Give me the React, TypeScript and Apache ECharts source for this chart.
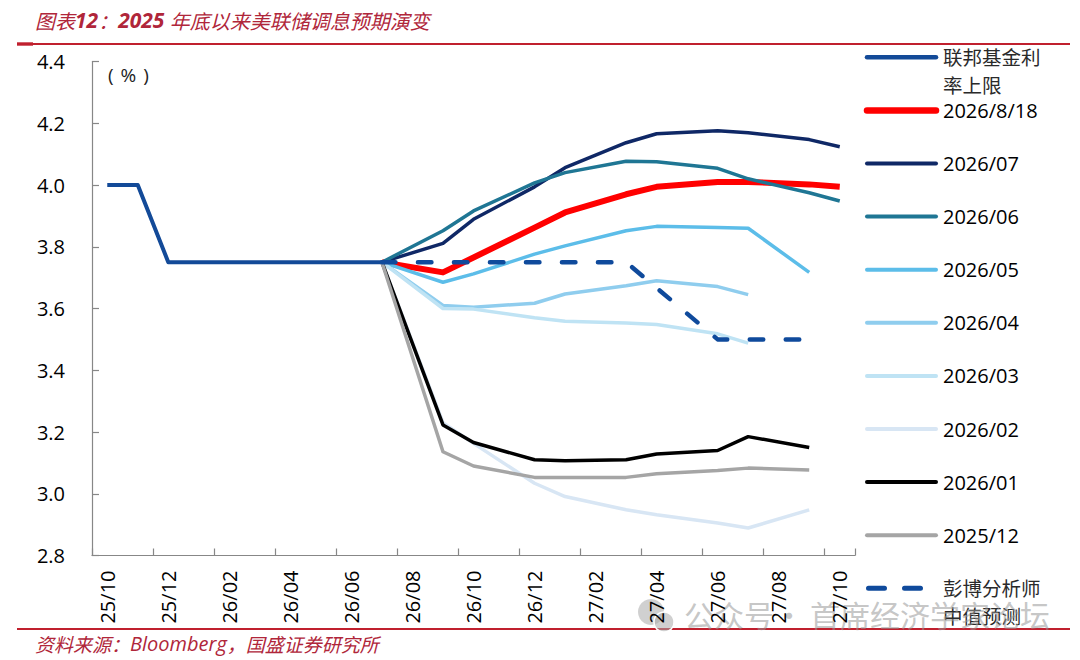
import React, { useEffect, useRef } from 'react';
import * as echarts from 'echarts';

// ---------- data ----------
const months = [
  '25/10', '25/11', '25/12', '26/01', '26/02', '26/03', '26/04', '26/05', '26/06',
  '26/07', '26/08', '26/09', '26/10', '26/11', '26/12', '27/01', '27/02', '27/03',
  '27/04', '27/05', '27/06', '27/07', '27/08', '27/09', '27/10',
];

const fedMonths = ['25/10', '25/11', '25/12', '26/01', '26/02', '26/03', '26/04', '26/05', '26/06', '26/07'];
const fedUpper = [4.0, 4.0, 3.75, 3.75, 3.75, 3.75, 3.75, 3.75, 3.75, 3.75];

// FOMC meeting months used by the market-implied paths
const projMonths = ['26/07', '26/09', '26/10', '26/12', '27/01', '27/03', '27/04', '27/06', '27/07', '27/09', '27/10'];

const path20260818 = [3.75, 3.717, 3.765, 3.862, 3.911, 3.97, 3.994, 4.01, 4.01, 4.002, 3.994];
const path202607 = [3.75, 3.811, 3.889, 3.994, 4.056, 4.137, 4.166, 4.176, 4.169, 4.147, 4.124];
const path202606 = [3.75, 3.852, 3.916, 4.007, 4.04, 4.077, 4.075, 4.054, 4.02, 3.975, 3.948];
const path202605 = [3.75, 3.685, 3.712, 3.776, 3.803, 3.852, 3.866, 3.862, 3.86, 3.717];
const path202604 = [3.75, 3.61, 3.604, 3.617, 3.647, 3.674, 3.69, 3.671, 3.645];
const path202603 = [3.75, 3.6, 3.598, 3.57, 3.559, 3.553, 3.548, 3.518, 3.488];
const path202602 = [3.75, 3.23, 3.163, 3.034, 2.991, 2.948, 2.932, 2.905, 2.889, 2.948];
const path202601 = [3.75, 3.223, 3.166, 3.11, 3.107, 3.11, 3.129, 3.14, 3.185, 3.15];
const path202512 = [3.75, 3.136, 3.09, 3.053, 3.053, 3.053, 3.065, 3.075, 3.083, 3.077];

const bbgMonths = ['26/07', '27/03', '27/06', '27/09'];
const bbgMedian = [3.75, 3.75, 3.5, 3.5];

const yMin = 2.8;
const yMax = 4.4;
const yStep = 0.2;

const seriesNames = [
  '联邦基金利率上限', '2026/8/18', '2026/07', '2026/06', '2026/05', '2026/04',
  '2026/03', '2026/02', '2026/01', '2025/12', '彭博分析师中值预测',
];
const legendLabels = [
  '联邦基金利\n率上限', '2026/8/18', '2026/07', '2026/06', '2026/05', '2026/04',
  '2026/03', '2026/02', '2026/01', '2025/12', '彭博分析师\n中值预测',
];
const seriesMonths = [fedMonths, projMonths, projMonths, projMonths, projMonths, projMonths,
  projMonths, projMonths, projMonths, projMonths, bbgMonths];
const seriesValues = [fedUpper, path20260818, path202607, path202606, path202605, path202604,
  path202603, path202602, path202601, path202512, bbgMedian];

// ---------- styles ----------
const seriesStyles = [
  { color: '#134a98', width: 4 },
  { color: '#ff0000', width: 6 },
  { color: '#0f2866', width: 3.5 },
  { color: '#1f7694', width: 3.5 },
  { color: '#5cbde9', width: 3.5 },
  { color: '#8fcdee', width: 3.5 },
  { color: '#bfe3f4', width: 3.5 },
  { color: '#d8e6f4', width: 3.5 },
  { color: '#000000', width: 3.5 },
  { color: '#a5a5a5', width: 3.5 },
  { color: '#0f4a9c', width: 4.5, dash: [13.5, 22.5] },
];

const NUM_FONT = '"Open Sans", "DejaVu Sans", sans-serif';
const CJK_FONT = '"Noto Sans CJK SC", "Noto Sans", sans-serif';
const TITLE_RED = '#b0263a';
const RULE_RED = '#c0202e';

export default function App() {
  const ref = useRef<HTMLDivElement>(null);

  useEffect(() => {
    if (!ref.current) return;
    const chart = echarts.init(ref.current, null, { renderer: 'svg' });

    const series = seriesNames.map((name, i) => ({
      name,
      type: 'line',
      data: seriesValues[i].map((v, j) => [seriesMonths[i][j], v]),
      symbol: 'none',
      showSymbol: false,
      lineStyle: {
        color: seriesStyles[i].color,
        width: seriesStyles[i].width,
        type: seriesStyles[i].dash ? seriesStyles[i].dash : 'solid',
        cap: seriesStyles[i].dash ? 'round' : 'butt',
        join: 'round',
      },
      itemStyle: { color: seriesStyles[i].color },
      emphasis: { disabled: true },
      silent: true,
    }));

    const legendTop = 57.3;
    const legendStep = 53.1;
    const legendGraphics: any[] = [];
    legendLabels.forEach((label, k) => {
      const y = legendTop + k * legendStep;
      const st = seriesStyles[k];
      const isDash = !!st.dash;
      legendGraphics.push({
        type: 'line',
        silent: true,
        shape: isDash ? { x1: 868.5, y1: y, x2: 920.5, y2: y } : { x1: 867, y1: y, x2: 936, y2: y },
        style: {
          stroke: st.color,
          lineWidth: isDash ? 5 : st.width + 0.5,
          lineDash: isDash ? [16, 20] : null,
          lineCap: 'round',
        },
      });
      const lines = label.split('\n');
      const cjk = /[\u4e00-\u9fff]/.test(label);
      lines.forEach((ln, li) => {
        legendGraphics.push({
          type: 'text',
          silent: true,
          style: {
            text: ln,
            x: 943,
            y: y - (lines.length > 1 ? 1 : 0) + li * 28,
            fill: cjk ? '#2a2a2a' : '#000',
            fontSize: cjk ? 19.5 : 20,
            fontFamily: cjk ? CJK_FONT : NUM_FONT,
            verticalAlign: 'middle',
            align: 'left',
          },
        });
      });
    });

    const option = {
      animation: false,
      backgroundColor: '#ffffff',
      grid: { left: 92, right: 225, top: 61.5, bottom: 104.5, containLabel: false },
      xAxis: {
        type: 'category',
        data: months,
        boundaryGap: true,
        axisLine: { show: true, lineStyle: { color: '#878787', width: 1.2 } },
        axisTick: { show: true, inside: true, length: 7, interval: 1, lineStyle: { color: '#878787', width: 1.2 } },
        axisLabel: {
          interval: 1,
          rotate: 90,
          margin: 15,
          color: '#000',
          fontSize: 20,
          fontFamily: NUM_FONT,
        },
        splitLine: { show: false },
      },
      yAxis: {
        type: 'value',
        min: yMin,
        max: yMax,
        interval: yStep,
        axisLine: { show: true, lineStyle: { color: '#878787', width: 1.2 } },
        axisTick: { show: true, inside: true, length: 7, lineStyle: { color: '#878787', width: 1.2 } },
        axisLabel: {
          margin: 27,
          color: '#000',
          fontSize: 20,
          fontFamily: NUM_FONT,
          formatter: (v: number) => v.toFixed(1),
        },
        splitLine: { show: false },
      },
      series,
      graphic: [
        // title
        {
          type: 'text',
          silent: true,
          style: {
            text: '{a|图表}{b|12}{a|：}{b|2025 }{a|年底以来美联储调息预期演变}',
            x: 35,
            y: 20,
            verticalAlign: 'middle',
            rich: {
              a: { fontFamily: CJK_FONT, fontStyle: 'italic', fontSize: 20, fill: TITLE_RED },
              b: { fontFamily: NUM_FONT, fontStyle: 'italic', fontWeight: 'bold', fontSize: 21, fill: TITLE_RED },
            },
          },
        },
        // top rule
        { type: 'rect', silent: true, shape: { x: 17, y: 42.3, width: 16, height: 3.4 }, style: { fill: RULE_RED } },
        { type: 'line', silent: true, shape: { x1: 17, y1: 44, x2: 1070, y2: 44 }, style: { stroke: RULE_RED, lineWidth: 2 } },
        // unit
        {
          type: 'text',
          silent: true,
          style: {
            text: '({p|%})',
            x: 108,
            y: 75,
            verticalAlign: 'middle',
            fontSize: 19,
            fontFamily: NUM_FONT,
            fill: '#222',
            rich: {
              p: { padding: [0, 7, 0, 7], fontSize: 19, fontFamily: NUM_FONT, fill: '#222' },
            },
          },
        },
        ...legendGraphics,
        // bottom rule
        { type: 'line', silent: true, shape: { x1: 17, y1: 629, x2: 1070, y2: 629 }, style: { stroke: RULE_RED, lineWidth: 2 } },
        // source
        {
          type: 'text',
          silent: true,
          style: {
            text: '{a|资料来源：}{b|Bloomberg}{a|，国盛证券研究所}',
            x: 35,
            y: 643,
            verticalAlign: 'middle',
            rich: {
              a: { fontFamily: CJK_FONT, fontStyle: 'italic', fontSize: 19, fill: TITLE_RED },
              b: { fontFamily: NUM_FONT, fontStyle: 'italic', fontSize: 20, fill: TITLE_RED },
            },
          },
        },
        // watermark
        {
          type: 'group',
          silent: true,
          z: 100,
          children: [
            { type: 'circle', shape: { cx: 651, cy: 612, r: 13 }, style: { fill: 'rgba(170,170,170,0.55)' } },
            { type: 'circle', shape: { cx: 664, cy: 622, r: 10 }, style: { fill: 'rgba(170,170,170,0.55)', stroke: '#fff', lineWidth: 1.5 } },
            {
              type: 'text',
              style: {
                text: '公众号·',
                x: 684,
                y: 614,
                verticalAlign: 'middle',
                fontSize: 30,
                fontFamily: CJK_FONT,
                fill: 'rgba(150,150,150,0.55)',
              },
            },
            {
              type: 'text',
              style: {
                text: '首席经济学家论坛',
                x: 810,
                y: 614,
                verticalAlign: 'middle',
                fontSize: 30,
                fontFamily: CJK_FONT,
                fill: 'rgba(150,150,150,0.55)',
              },
            },
          ],
        },
      ],
    };

    chart.setOption(option as any);
    return () => chart.dispose();
  }, []);

  return (
    <div
      ref={ref}
      style={{ position: 'fixed', left: 0, top: 0, width: 1080, height: 660, background: '#fff' }}
    />
  );
}
